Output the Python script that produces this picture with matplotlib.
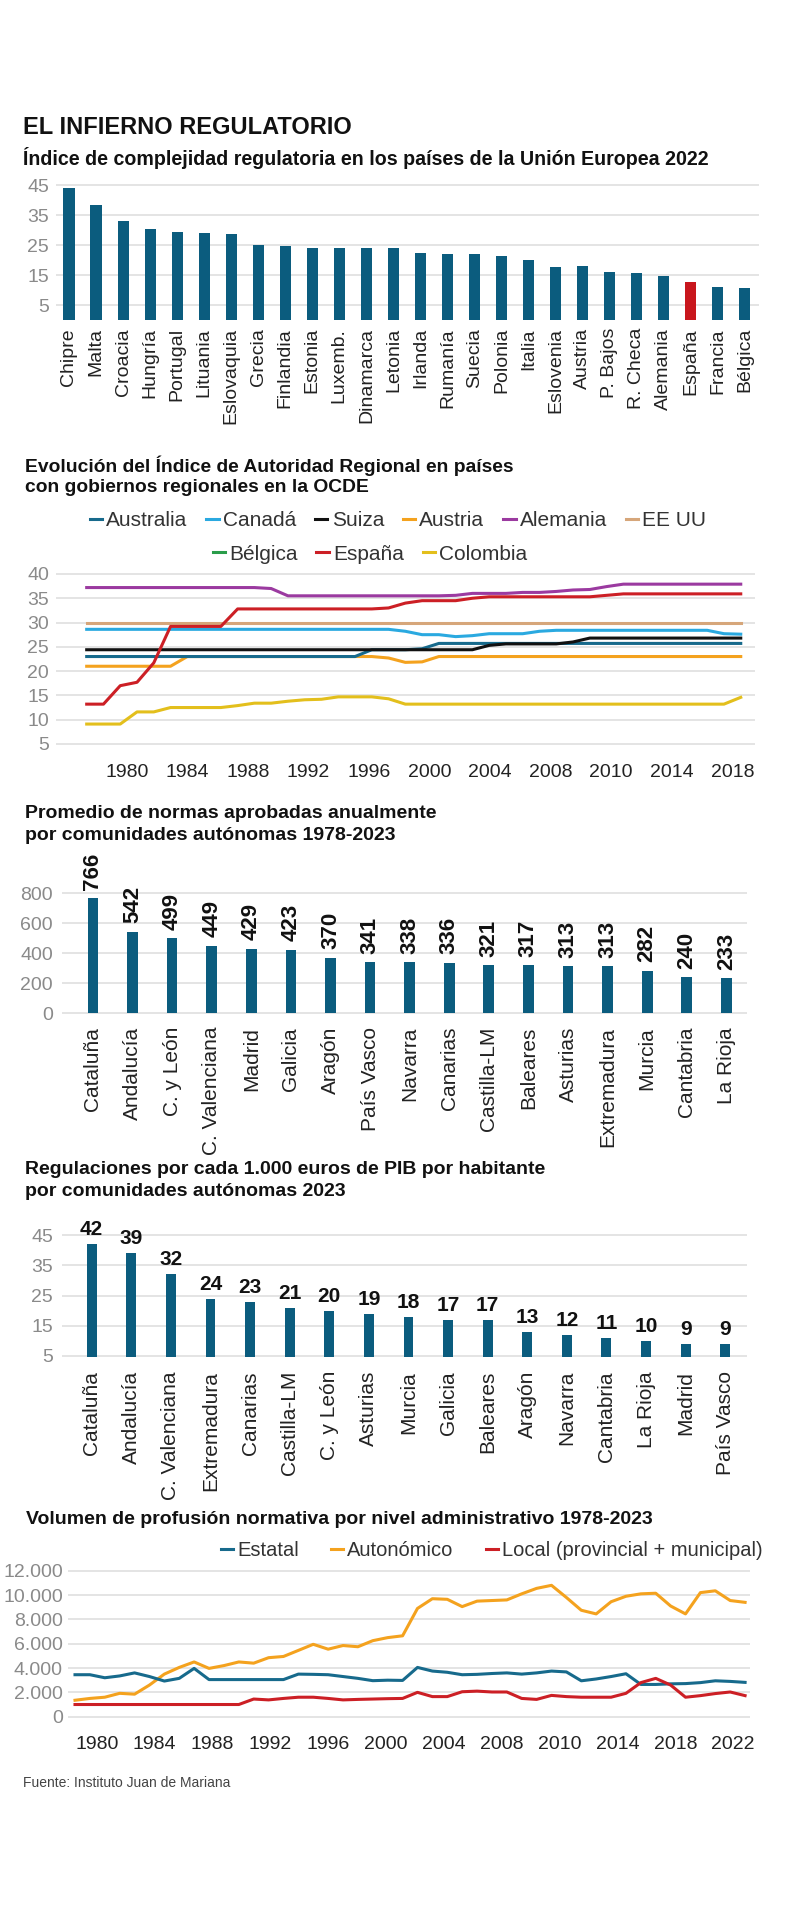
import numpy as np
import matplotlib
matplotlib.use("Agg")
import matplotlib.pyplot as plt
from matplotlib import font_manager
from matplotlib.lines import Line2D

# ---------------------------------------------------------------
#  Data
# ---------------------------------------------------------------
eu_countries = ["Chipre", "Malta", "Croacia", "Hungría", "Portugal", "Lituania",
                "Eslovaquia", "Grecia", "Finlandia", "Estonia", "Luxemb.", "Dinamarca",
                "Letonia", "Irlanda", "Rumanía", "Suecia", "Polonia", "Italia",
                "Eslovenia", "Austria", "P. Bajos", "R. Checa", "Alemania", "España",
                "Francia", "Bélgica"]
eu_index = [43.9, 38.3, 33.1, 30.3, 29.3, 28.9, 28.6, 24.9, 24.7, 24.1, 24.1, 24.1,
            23.9, 22.4, 22.0, 22.0, 21.3, 19.9, 17.8, 18.0, 16.0, 15.8, 14.8, 12.8,
            10.9, 10.7]

rai_ticks = ["1980", "1984", "1988", "1992", "1996", "2000", "2004", "2008", "2010",
             "2014", "2018"]
rai_australia = [23.0] * 17 + [24.4, 24.4, 24.4, 24.6] + [25.7] * 19
rai_canada = [28.6] * 19 + [28.2, 27.5, 27.5, 27.1, 27.3, 27.7, 27.7, 27.7, 28.2] \
    + [28.4] * 10 + [27.7, 27.6]
rai_suiza = [24.4] * 24 + [25.3, 25.6, 25.6, 25.6, 25.6, 26.0] + [26.8] * 10
rai_austria = [21.0] * 6 + [23.0] * 12 + [22.7, 21.8, 21.9] + [23.0] * 19
rai_alemania = [37.2] * 11 + [37.0] + [35.5] * 10 \
    + [35.6, 36.0, 36.0, 36.0, 36.2, 36.2, 36.4, 36.7, 36.8, 37.4] + [37.9] * 8
rai_eeuu = [30.0] * 40
rai_espana = [13.2, 13.2, 17.0, 17.7, 21.7, 29.2, 29.2, 29.2, 29.2] + [32.8] * 9 \
    + [33.0, 34.0, 34.5, 34.5, 34.5, 35.0] + [35.3] * 7 + [35.6] + [35.9] * 8
rai_colombia = [9.1, 9.1, 9.1, 11.6, 11.6, 12.5, 12.5, 12.5, 12.5, 12.9, 13.4, 13.4,
                13.8, 14.1, 14.2, 14.7, 14.7, 14.7, 14.3] + [13.2] * 20 + [14.6]

ccaa_normas = ["Cataluña", "Andalucía", "C. y León", "C. Valenciana", "Madrid", "Galicia",
               "Aragón", "País Vasco", "Navarra", "Canarias", "Castilla-LM", "Baleares",
               "Asturias", "Extremadura", "Murcia", "Cantabria", "La Rioja"]
normas_media = [766, 542, 499, 449, 429, 423, 370, 341, 338, 336, 321, 317, 313, 313,
                282, 240, 233]

ccaa_pib = ["Cataluña", "Andalucía", "C. Valenciana", "Extremadura", "Canarias",
            "Castilla-LM", "C. y León", "Asturias", "Murcia", "Galicia", "Baleares",
            "Aragón", "Navarra", "Cantabria", "La Rioja", "Madrid", "País Vasco"]
regs_pib = [42, 39, 32, 24, 23, 21, 20, 19, 18, 17, 17, 13, 12, 11, 10, 9, 9]

vol_ticks = ["1980", "1984", "1988", "1992", "1996", "2000", "2004", "2008", "2010",
             "2014", "2018", "2022"]
vol_estatal = [3450, 3450, 3200, 3350, 3600, 3300, 2930, 3150, 3970, 3050, 3050, 3050,
               3050, 3050, 3050, 3500, 3480, 3450, 3300, 3150, 2960, 3000, 2980, 4050,
               3750, 3650, 3450, 3480, 3550, 3600, 3500, 3600, 3750, 3680, 2950, 3100,
               3300, 3530, 2650, 2650, 2700, 2720, 2800, 2950, 2900, 2820]
vol_autonomico = [1350, 1500, 1600, 1920, 1850, 2600, 3500, 4050, 4500, 3970, 4200, 4500,
                  4400, 4850, 4950, 5450, 5950, 5550, 5850, 5750, 6250, 6500, 6650, 8900,
                  9700, 9650, 9050, 9500, 9550, 9600, 10100, 10550, 10800, 9800, 8750,
                  8450, 9450, 9900, 10100, 10150, 9100, 8450, 10200, 10350, 9550, 9400]
vol_local = [1000] * 12 + [1450, 1380, 1500, 1600, 1600, 1500, 1380, 1420, 1450, 1480,
                           1500, 2000, 1650, 1650, 2050, 2100, 2030, 2030, 1500, 1420,
                           1750, 1650, 1600, 1600, 1600, 1920, 2800, 3150, 2600, 1600,
                           1730, 1900, 2030, 1730]

# ---------------------------------------------------------------
#  Style
# ---------------------------------------------------------------
W, H = 800, 1905
TEAL = "#0b5c7e"
RED = "#c8161d"
GRID = "#e2e2e2"
TICK_GREY = "#8a8a8a"
DARK = "#222222"

# condensed bold headline font if installed, else regular width at smaller size
_names = {f.name for f in font_manager.fontManager.ttflist}
if "Liberation Sans Narrow" in _names:
    NARROW = "Liberation Sans Narrow"
    SZ_MAIN, SZ_SUB, SZ_T2 = 17, 14.5, 14.5
else:
    NARROW = "Liberation Sans"
    SZ_MAIN, SZ_SUB, SZ_T2 = 17, 14.1, 13.9
SZ_T = 14

plt.rcParams["font.family"] = ["Liberation Sans", "DejaVu Sans"]

fig = plt.figure(figsize=(W / 100, H / 100), dpi=100)
fig.patch.set_facecolor("white")


def px_axes(left, top, right, bottom):
    """Axes placed by pixel box (top-left origin)."""
    return fig.add_axes([left / W, 1 - bottom / H, (right - left) / W, (bottom - top) / H])


def fig_text(x, y, s, **kw):
    fig.text(x / W, 1 - y / H, s, va="center", ha="left", **kw)


def style_axes(ax, ypad=5):
    for sp in ax.spines.values():
        sp.set_visible(False)
    ax.tick_params(length=0)
    ax.tick_params(axis="y", labelsize=14, labelcolor=TICK_GREY, pad=ypad)
    ax.grid(axis="y", color=GRID, linewidth=1.3)
    ax.set_axisbelow(True)


# ---------------------------------------------------------------
#  Titles
# ---------------------------------------------------------------
fig_text(23, 128, "EL INFIERNO REGULATORIO", family=NARROW, fontweight="bold",
         fontsize=SZ_MAIN, color="#111")
fig_text(23, 158, "Índice de complejidad regulatoria en los países de la Unión Europea 2022",
         family=NARROW, fontweight="bold", fontsize=SZ_SUB, color="#111")

# ---------------------------------------------------------------
#  1. EU complexity index
# ---------------------------------------------------------------
ax1 = px_axes(56, 182, 759, 320)
x1 = np.arange(len(eu_countries))
bar_cols = [RED if c == "España" else TEAL for c in eu_countries]
ax1.bar(x1, eu_index, width=0.41, color=bar_cols)
ax1.set_xlim(-0.48, len(eu_countries) - 0.48)
ax1.set_ylim(0, 46)
ax1.set_yticks([5, 15, 25, 35, 45])
ax1.set_xticks(x1)
ax1.set_xticklabels(eu_countries, rotation=90, fontsize=14, color=DARK)
style_axes(ax1)
ax1.tick_params(axis="x", pad=5.8)

# ---------------------------------------------------------------
#  2. Regional Authority Index
# ---------------------------------------------------------------
fig_text(25, 466, "Evolución del Índice de Autoridad Regional en países",
         family=NARROW, fontweight="bold", fontsize=SZ_T2, color="#111")
fig_text(25, 488, "con gobiernos regionales en la OCDE",
         family=NARROW, fontweight="bold", fontsize=SZ_T2, color="#111")

ax2 = px_axes(56, 569.1, 755, 746.4)
x2 = np.arange(len(rai_eeuu))
series = {
    "EE UU": (rai_eeuu, "#d6a67a"),
    "Canadá": (rai_canada, "#2aa9e0"),
    "Austria": (rai_austria, "#f4a21e"),
    "Australia": (rai_australia, "#176a8c"),
    "Suiza": (rai_suiza, "#111111"),
    "Colombia": (rai_colombia, "#e3bf1c"),
    "Alemania": (rai_alemania, "#9b3aa0"),
    "España": (rai_espana, "#cc1f25"),
}
handles = {}
for name, (vals, col) in series.items():
    handles[name], = ax2.plot(x2, vals, color=col, linewidth=2.2)
handles["Bélgica"] = Line2D([], [], color="#2a9d4a", linewidth=2.2)
ax2.set_xlim(-1.83, 39.85)
ax2.set_ylim(4.5, 41)
ax2.set_yticks(range(5, 41, 5))
ax2.set_xticks(np.linspace(2.39, 38.5, len(rai_ticks)))
ax2.set_xticklabels(rai_ticks, fontsize=14, color=DARK)
style_axes(ax2)
ax2.tick_params(axis="x", pad=13)

row1 = ["Australia", "Canadá", "Suiza", "Austria", "Alemania", "EE UU"]
row2 = ["Bélgica", "España", "Colombia"]
for row, (cx, cy) in ((row1, (398, 521)), (row2, (370, 554))):
    fig.legend([handles[n] for n in row], row, loc="center",
               bbox_to_anchor=(cx / W, 1 - cy / H), ncol=len(row), frameon=False,
               fontsize=15, handlelength=0.6, handletextpad=0.2, columnspacing=0.9,
               labelcolor="#333")

# ---------------------------------------------------------------
#  3. Average yearly rules by region
# ---------------------------------------------------------------
fig_text(25, 813, "Promedio de normas aprobadas anualmente", fontweight="bold",
         fontsize=SZ_T, color="#111")
fig_text(25, 835, "por comunidades autónomas 1978-2023", fontweight="bold",
         fontsize=SZ_T, color="#111")

ax3 = px_axes(62, 888.5, 747, 1013.75)
x3 = np.arange(len(ccaa_normas))
ax3.bar(x3, normas_media, width=0.27, color=TEAL)
for xi, v in zip(x3, normas_media):
    ax3.annotate(str(v), (xi, v), xytext=(0, 6), textcoords="offset points",
                 rotation=90, ha="center", va="bottom", fontsize=16,
                 fontweight="bold", color="#111", annotation_clip=False)
ax3.set_xlim(-0.78, len(ccaa_normas) - 0.48)
ax3.set_ylim(-5, 830)
ax3.set_yticks(range(0, 801, 200))
ax3.set_xticks(x3)
ax3.set_xticklabels(ccaa_normas, rotation=90, fontsize=15, color=DARK)
style_axes(ax3, ypad=6.5)
ax3.tick_params(axis="x", pad=9.5)

# ---------------------------------------------------------------
#  4. Regulations per 1,000 EUR GDP per capita
# ---------------------------------------------------------------
fig_text(25, 1170, "Regulaciones por cada 1.000 euros de PIB por habitante",
         fontweight="bold", fontsize=SZ_T, color="#111")
fig_text(25, 1192, "por comunidades autónomas 2023", fontweight="bold",
         fontsize=SZ_T, color="#111")

ax4 = px_axes(62, 1232.2, 747, 1357.2)
x4 = np.arange(len(ccaa_pib))
ax4.bar(x4, regs_pib, width=0.25, color=TEAL)
for xi, v in zip(x4, regs_pib):
    ax4.annotate(str(v), (xi, v), xytext=(0, 6.5), textcoords="offset points",
                 ha="center", va="baseline", fontsize=15, fontweight="bold",
                 color="#111", annotation_clip=False)
ax4.set_xlim(-0.75, len(ccaa_pib) - 0.45)
ax4.set_ylim(4.6, 46)
ax4.set_yticks([5, 15, 25, 35, 45])
ax4.set_xticks(x4)
ax4.set_xticklabels(ccaa_pib, rotation=90, fontsize=15, color=DARK)
style_axes(ax4, ypad=6.5)
ax4.tick_params(axis="x", pad=10)

# ---------------------------------------------------------------
#  5. Rule volume by administrative level
# ---------------------------------------------------------------
fig_text(26, 1520, "Volumen de profusión normativa por nivel administrativo 1978-2023",
         fontweight="bold", fontsize=SZ_T, color="#111")

ax5 = px_axes(68, 1568.3, 750, 1718.5)
x5 = np.arange(len(vol_estatal))
l_aut, = ax5.plot(x5, vol_autonomico, color="#f4a21e", linewidth=2.2)
l_est, = ax5.plot(x5, vol_estatal, color="#176a8c", linewidth=2.2)
l_loc, = ax5.plot(x5, vol_local, color="#cc1f25", linewidth=2.2)
ax5.set_xlim(-0.47, 45.33)
ax5.set_ylim(-150, 12200)
yt = list(range(0, 12001, 2000))
ax5.set_yticks(yt)
ax5.set_yticklabels([f"{v:,}".replace(",", ".") for v in yt])
ax5.set_xticks(np.linspace(1.46, 44.2, len(vol_ticks)))
ax5.set_xticklabels(vol_ticks, fontsize=14, color=DARK)
style_axes(ax5, ypad=3.6)
ax5.tick_params(axis="x", pad=12.5)

fig.legend([l_est, l_aut, l_loc],
           ["Estatal", "Autonómico", "Local (provincial + municipal)"],
           loc="center", bbox_to_anchor=(492 / W, 1 - 1551 / H), ncol=3, frameon=False,
           fontsize=14.5, handlelength=0.6, handletextpad=0.2, columnspacing=1.6,
           labelcolor="#333")

fig_text(23, 1783, "Fuente: Instituto Juan de Mariana", fontsize=10, color="#444")

fig.savefig("out.png", dpi=100, facecolor="white")
